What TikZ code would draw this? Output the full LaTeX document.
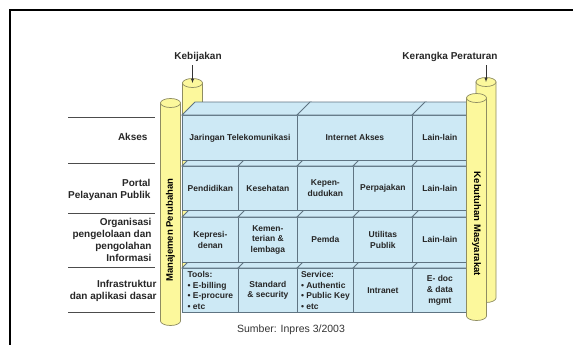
\documentclass[tikz,border=0pt]{standalone}
\usepackage{fontspec}
\setmainfont{Liberation Sans}
\usetikzlibrary{positioning}
\definecolor{brickfill}{HTML}{CDE9F5}
\definecolor{brickline}{HTML}{5F7482}
\definecolor{pillarfill}{HTML}{FCF89C}
\definecolor{pillarline}{HTML}{8E8C62}

\begin{document}
\begin{tikzpicture}[x=1pt,y=-1pt,
			brick/.style={draw=brickline, fill=brickfill, line width=0.8pt, anchor=north west, inner sep=1pt, align=center, text=black!85, font=\fontsize{8.5}{10.6}\selectfont\bfseries},
			brickface/.style={draw=brickline, fill=brickfill, line width=0.8pt},
			pillar/.style={draw=pillarline, fill=pillarfill, line width=0.7pt},
			pillartext/.style={font=\fontsize{9.5}{11}\selectfont\bfseries, text=black},
			layer/.style={anchor=east, align=right, font=\fontsize{10}{12}\selectfont\bfseries, text=black!85},
			toplabel/.style={font=\fontsize{10}{12}\selectfont\bfseries, text=black!85},
			sepline/.style={draw=black!70, line width=0.8pt},
		]
		\useasboundingbox (0,0) rectangle (573,345);
		\draw[line width=1.4pt] (10,345) |- (573,10);

			%Labels on top
			\node[toplabel]	(kebijakan)	at (198,57)	{Kebijakan};
			\node[toplabel]	(kerangka)	at (450,57)	{Kerangka Peraturan};

			%Back pillars
			\foreach \n/\cx/\yt/\yb in {kbTop/192.5/83/300, krTop/486/82/298}{
				\coordinate (\n) at (\cx,\yt);
				\filldraw[pillar] (\cx-10,\yt) -- (\cx-10,\yb) arc[start angle=180, end angle=360, x radius=10pt, y radius=4.5pt] -- (\cx+10,\yt) -- cycle;
				\filldraw[pillar] (\n) ellipse [x radius=10pt, y radius=4.5pt];
			}

			%Row 4
			\node[brick, minimum width=56, minimum height=44, align=left]	(tools)	at (182,268)	{Tools:\\• E-billing\\• E-procure\\• etc};
			\node[brick, minimum width=59, minimum height=44]	(standard)	at (238,268)	{Standard\\\& security};
			\node[brick, minimum width=56, minimum height=44, align=left]	(service)	at (297,268)	{Service:\\• Authentic\\• Public Key\\• etc};
			\node[brick, minimum width=59, minimum height=44]	(intranet)	at (353,268)	{Intranet};
			\node[brick, minimum width=55, minimum height=44]	(edoc)	at (412,268)	{E- doc\\\& data\\mgmt};
			\foreach \b in {tools,standard,service,intranet,edoc}
				\draw[brickface] (\b.north west) -- ++(13,-13) -- ([shift={(13,-13)}]\b.north east) -- (\b.north east) -- cycle;

			%Row 3
			\node[brick, minimum width=56, minimum height=45]	(kepresidenan)	at (182,217)	{Kepresi-\\denan};
			\node[brick, minimum width=59, minimum height=45]	(kementerian)	at (238,217)	{Kemen-\\terian \&\\lembaga};
			\node[brick, minimum width=56, minimum height=45]	(pemda)	at (297,217)	{Pemda};
			\node[brick, minimum width=59, minimum height=45]	(utilitas)	at (353,217)	{Utilitas\\Publik};
			\node[brick, minimum width=55, minimum height=45]	(lainC)	at (412,217)	{Lain-lain};
			\foreach \b in {kepresidenan,kementerian,pemda,utilitas,lainC}
				\draw[brickface] (\b.north west) -- ++(13,-13) -- ([shift={(13,-13)}]\b.north east) -- (\b.north east) -- cycle;

			%Row 2
			\node[brick, minimum width=56, minimum height=44]	(pendidikan)	at (182,166)	{Pendidikan};
			\node[brick, minimum width=59, minimum height=44]	(kesehatan)	at (238,166)	{Kesehatan};
			\node[brick, minimum width=56, minimum height=44]	(kependudukan)	at (297,166)	{Kepen-\\dudukan};
			\node[brick, minimum width=59, minimum height=44]	(perpajakan)	at (353,166)	{Perpajakan};
			\node[brick, minimum width=55, minimum height=44]	(lainB)	at (412,166)	{Lain-lain};
			\foreach \b in {pendidikan,kesehatan,kependudukan,perpajakan,lainB}
				\draw[brickface] (\b.north west) -- ++(13,-13) -- ([shift={(13,-13)}]\b.north east) -- (\b.north east) -- cycle;

			%Row 1
			\node[brick, minimum width=115, minimum height=45]	(jaringan)	at (182,115)	{Jaringan Telekomunikasi};
			\node[brick, minimum width=115, minimum height=45]	(internet)	at (297,115)	{Internet Akses};
			\node[brick, minimum width=55, minimum height=45]	(lainA)	at (412,115)	{Lain-lain};
			\foreach \b in {jaringan,internet,lainA}
				\draw[brickface] (\b.north west) -- ++(13,-13) -- ([shift={(13,-13)}]\b.north east) -- (\b.north east) -- cycle;

			%Front pillars
			\foreach \n/\cx/\yt/\yb in {pillarFL/170.5/103/321, pillarFR/476.5/98/316}{
				\coordinate (\n) at (\cx,\yt);
				\filldraw[pillar] (\cx-10,\yt) -- (\cx-10,\yb) arc[start angle=180, end angle=360, x radius=10pt, y radius=4.5pt] -- (\cx+10,\yt) -- cycle;
				\filldraw[pillar] (\n) ellipse [x radius=10pt, y radius=4.5pt];
			}
			\node[pillartext, rotate=90]	(manajemen)	at (170.5,230)	{Manajemen Perubahan};
			\node[pillartext, rotate=-90]	(kebutuhan)	at (476.5,224)	{Kebutuhan Masyarakat};

			%Arrows
			\draw[-latex, black!80]	(kebijakan.south -| kbTop) -- (kbTop);
			\draw[-latex, black!80]	(kerangka.south -| krTop) -- (krTop);

			%Layers
			\foreach \y in {117,163,213,267,312}
				\draw[sepline] (68,\y) -- (155,\y);
			\node[layer]	(akses)	at (151,137)	{Akses};
			\node[layer]	(portal)	at (154,190)	{Portal\\Pelayanan Publik};
			\node[layer]	(organisasi)	at (155,240)	{Organisasi\\pengelolaan dan\\pengolahan\\Informasi};
			\node[layer]	(infra)	at (160,291)	{Infrastruktur\\dan aplikasi dasar};

			\node[font=\fontsize{10.5}{12}\selectfont, text=black!80]	(sumber)	at (291,330)	{Sumber: Inpres 3/2003};

		\end{tikzpicture}
\end{document}
